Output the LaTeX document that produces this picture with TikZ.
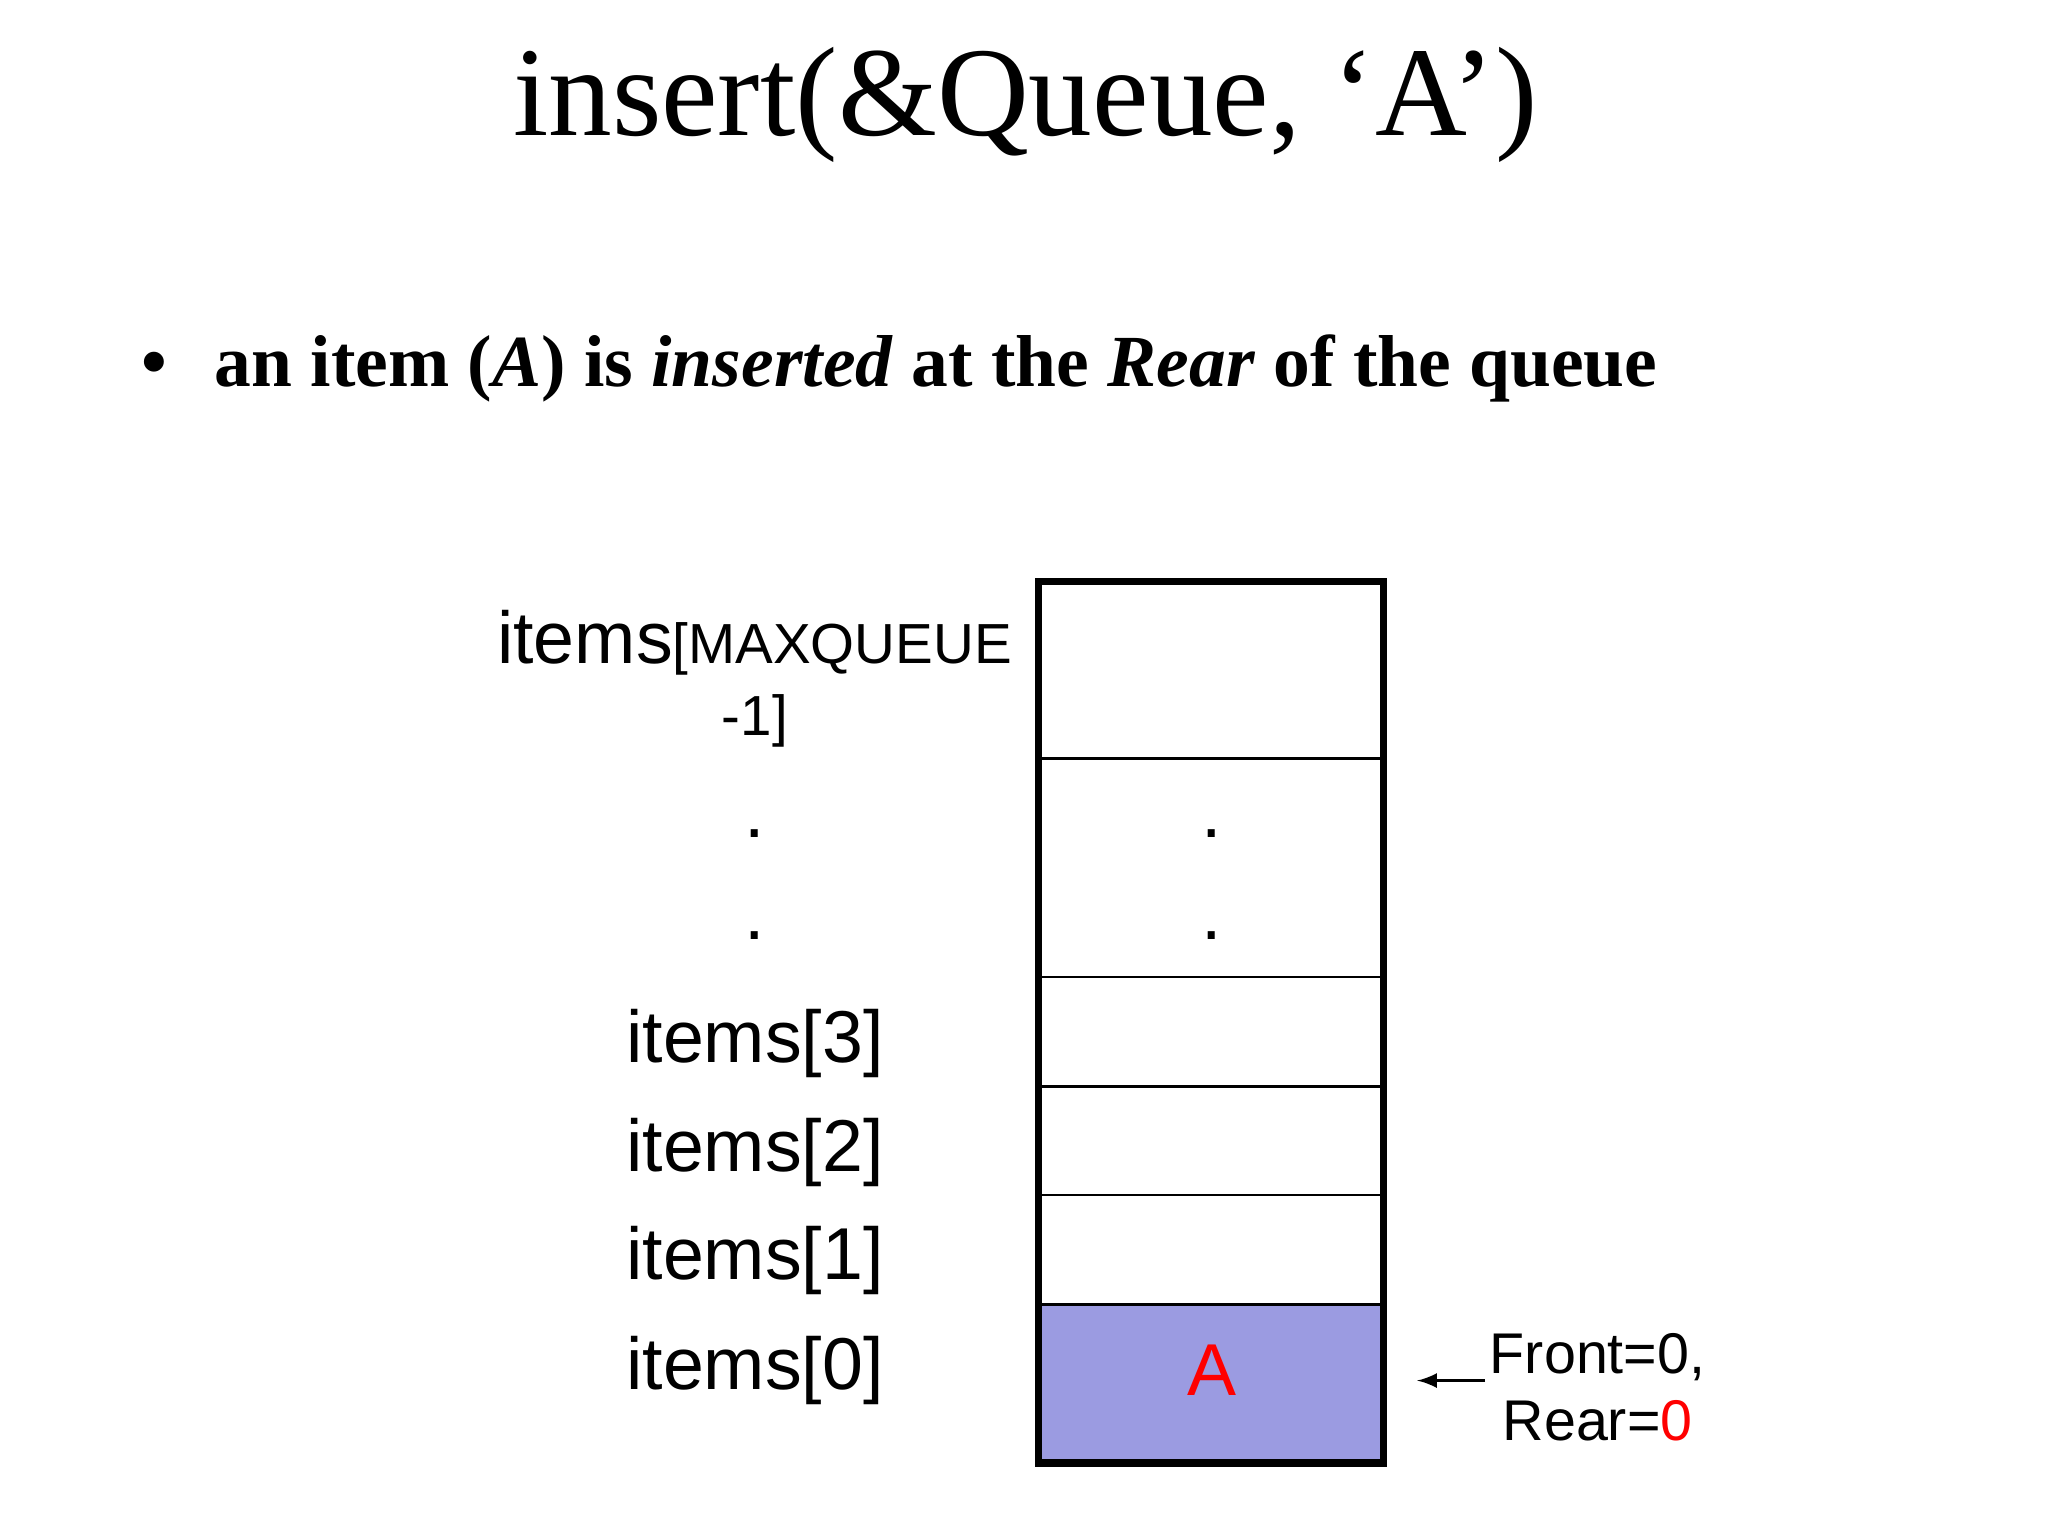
\documentclass[tikz,border=0pt]{standalone}
\usepackage{fontspec}
\setmainfont{Liberation Serif}
\newfontfamily\arialf{Liberation Sans}
\begin{document}
\begin{tikzpicture}[x=0.01cm,y=-0.01cm,
  lab/.style={font=\arialf\fontsize{16}{18}\selectfont, anchor=center, inner sep=0},
  cell/.style={draw, line width=0.6pt}]
\useasboundingbox (0,0) rectangle (1568,1176);
\node (title) at (785,80) {\fontsize{27.7}{30}\selectfont insert(\&Queue, ‘A’)};
\node[anchor=west,inner sep=0] (bul) at (108,282) {\fontsize{16}{19}\selectfont\bfseries •\hspace{0.36cm}an item (\textit{A}) is \textit{inserted} at the \textit{Rear} of the queue};
% cells
\fill[fill={rgb,255:red,155;green,155;blue,225}] (795,999) rectangle (1059,1120);
\foreach \y in {581,748,832,915,999} \draw[line width=0.6pt] (795,\y) -- (1059,\y);
\draw[line width=1.6pt] (795,445) rectangle (1059,1120);
\node[anchor=base west,inner sep=0] (lmax) at (380,508) {\arialf\fontsize{16}{18}\selectfont items\fontsize{12.3}{14}\selectfont[MAXQUEUE};
\node[lab] (lmax2) at (578,552) {\fontsize{12.3}{14}\selectfont -1]};
\node[lab] (d1) at (578,638) {.};
\node[lab] (d2) at (578,716) {.};
\node[lab] (d3) at (928,638) {.};
\node[lab] (d4) at (928,716) {.};
\node[lab] (l3) at (578,799) {items[3]};
\node[lab] (l2) at (578,882) {items[2]};
\node[lab] (l1) at (578,965) {items[1]};
\node[lab] (l0) at (578,1049) {items[0]};
\node[lab,text=red] (a) at (928,1049) {A};
\node[anchor=west,inner sep=0,font=\arialf\fontsize{12.5}{14.5}\selectfont,align=center] (fr) at (1140,1062) {Front=0,\\Rear=\textcolor{red}{0}};
\coordinate (ae) at (1085,1057);
\draw[-latex,line width=0.5pt] (1137,1057) -- (ae);
\end{tikzpicture}
\end{document}
